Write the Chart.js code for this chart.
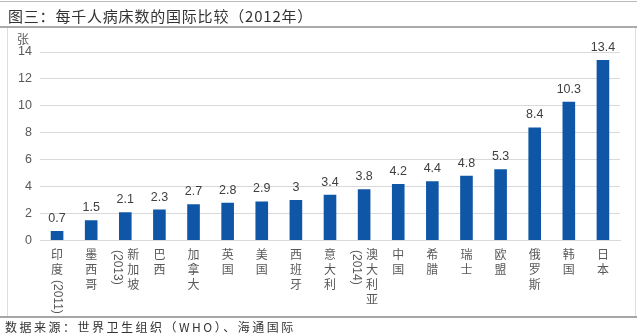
<!DOCTYPE html>
<html>
<head>
<meta charset="utf-8">
<script src="https://cdn.jsdelivr.net/npm/chart.js@4"></script>
<style>
  html, body { margin: 0; padding: 0; background: #fff; }
  #wrap { position: relative; width: 640px; height: 334px; overflow: hidden; }
  #chart { position: absolute; left: 0; top: 0; }
  .line { position: absolute; background: #a6a6a6; }
  #title { position: absolute; left: 8px; top: 5px; font: 15px "Noto Sans CJK SC", sans-serif; color: #333; letter-spacing: 0.8px; }
  #source { position: absolute; left: 5px; top: 318px; font: 12px "Noto Sans CJK SC", sans-serif; color: #333; letter-spacing: 2.5px; }
</style>
</head>
<body>
<div id="wrap">
  <canvas id="chart" width="640" height="334"></canvas>
  <div class="line" style="left:0;top:1px;width:637px;height:1px;background:#bbb"></div>
  <div class="line" style="left:0;top:26px;width:637px;height:2px;background:#aaa"></div>
  <div class="line" style="left:7px;top:28px;width:1px;height:289px;background:#ddd"></div>
  <div class="line" style="left:635px;top:28px;width:1px;height:289px;background:#ddd"></div>
  <div class="line" style="left:0;top:316px;width:637px;height:2px;background:#a6a6a6"></div>
  <div id="title">图三：每千人病床数的国际比较（2012年）</div>
  <div id="source">数据来源：世界卫生组织（WHO）、海通国际</div>
</div>
<script>
// 数据
const categories = ['印度(2011)', '墨西哥', ['新加坡', '(2013)'], '巴西', '加拿大', '英国', '美国', '西班牙',
    '意大利', ['澳大利亚', '(2014)'], '中国', '希腊', '瑞士', '欧盟', '俄罗斯', '韩国', '日本'];
const beds = [0.7, 1.5, 2.1, 2.3, 2.7, 2.8, 2.9, 3, 3.4, 3.8, 4.2, 4.4, 4.8, 5.3, 8.4, 10.3, 13.4];
const yTicks = [0, 2, 4, 6, 8, 10, 12, 14];
const unitLabel = '张';

Chart.defaults.font.family = '"Liberation Sans", "Noto Sans CJK SC", sans-serif';

// 縦書きラベル・数値ラベル
const labelPlugin = {
    id: 'labels',
    afterDraw(chart) {
        const ctx = chart.ctx;
        const xs = chart.scales.x;
        const meta = chart.getDatasetMeta(0);
        ctx.save();
        ctx.fillStyle = '#595959';
        ctx.font = '12px "Liberation Sans", "Noto Sans CJK SC", sans-serif';

        // 単位
        ctx.textAlign = 'center';
        ctx.textBaseline = 'middle';
        ctx.fillText(unitLabel, 23, 41);

        // 数値ラベル
        ctx.fillStyle = '#404040';
        ctx.font = '12.5px "Liberation Sans", sans-serif';
        ctx.textBaseline = 'alphabetic';
        meta.data.forEach((bar, i) => {
            ctx.fillText(String(beds[i]), bar.x, bar.y - 9);
        });

        // カテゴリ（縦書き）
        ctx.fillStyle = '#595959';
        ctx.font = '12px "Liberation Sans", "Noto Sans CJK SC", sans-serif';
        const pitch = 15;
        const colGap = 16;
        categories.forEach((label, i) => {
            const cols = Array.isArray(label) ? label : [label];
            const cx = xs.getPixelForValue(i);
            cols.forEach((text, j) => {
                const x = cx + (cols.length - 1) / 2 * colGap - j * colGap;
                let y = 248;
                const runs = text.match(/[\x00-\x7f]+|[^\x00-\x7f]/g);
                runs.forEach(run => {
                    if (/^[\x00-\x7f]+$/.test(run)) {
                        const w = ctx.measureText(run).width;
                        ctx.save();
                        ctx.translate(x, y + 2);
                        ctx.rotate(Math.PI / 2);
                        ctx.textAlign = 'left';
                        ctx.textBaseline = 'middle';
                        ctx.fillText(run, 0, 0);
                        ctx.restore();
                        y += w + 3;
                    } else {
                        ctx.textAlign = 'center';
                        ctx.textBaseline = 'middle';
                        ctx.fillText(run, x, y + pitch / 2);
                        y += pitch;
                    }
                });
            });
        });
        ctx.restore();
    }
};

const ctx = document.getElementById('chart').getContext('2d');
const bedChart = new Chart(ctx, {
    type: 'bar',
    data: {
        labels: categories,
        datasets: [{
            data: beds,
            backgroundColor: '#0f57a6',
            categoryPercentage: 1,
            barPercentage: 0.37
        }]
    },
    options: {
        responsive: false,
        animation: false,
        devicePixelRatio: 1,
        layout: { padding: { top: 52, right: 20, left: 0, bottom: 0 } },
        plugins: { legend: { display: false }, tooltip: { enabled: false } },
        scales: {
            x: {
                grid: { display: false },
                border: { color: '#d9d9d9' },
                ticks: { display: false },
                afterFit(scale) { scale.height = 334 - 240.5; }
            },
            y: {
                min: 0,
                max: 14,
                afterBuildTicks(scale) { scale.ticks = yTicks.map(v => ({ value: v })); },
                afterFit(scale) { scale.width = 40; },
                grid: { color: '#d9d9d9', drawTicks: false },
                border: { display: false },
                ticks: { color: '#595959', font: { size: 12.5 }, padding: 8 }
            }
        }
    },
    plugins: [labelPlugin]
});
</script>
</body>
</html>
